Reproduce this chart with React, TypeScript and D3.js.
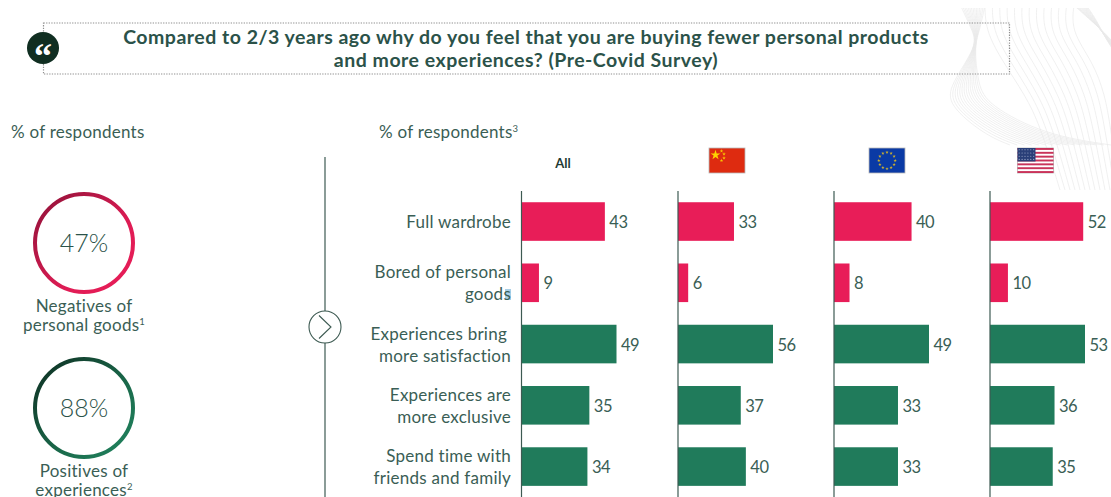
import React from "react";
import * as d3 from "d3";

const categories = [
  ["Full wardrobe"],
  ["Bored of personal", "goods"],
  ["Experiences bring ", "more satisfaction"],
  ["Experiences are", "more exclusive"],
  ["Spend time with", "friends and family"],
];
const categoryKinds = ["negative", "negative", "positive", "positive", "positive"];
const allValues = [43, 9, 49, 35, 34];
const chinaValues = [33, 6, 56, 37, 40];
const europeValues = [40, 8, 49, 33, 33];
const usaValues = [52, 10, 53, 36, 35];

const FONT = "Lato, 'Open Sans', sans-serif";
const INK = "#3a5e55";
const TITLE_INK = "#2b5249";
const PINK = "#e81d58";
const GREEN = "#207b5b";

const W = 1111;
const H = 497;

const BODY = { fontSize: 17, letterSpacing: 0.25 };

const panels = [
  { key: "All", x0: 521.5, values: allValues },
  { key: "China", x0: 678, values: chinaValues },
  { key: "EU", x0: 834, values: europeValues },
  { key: "USA", x0: 990, values: usaValues },
];

const rowScale = d3
  .scaleBand<number>()
  .domain(d3.range(categories.length))
  .range([190.9, 497.2])
  .paddingInner(0.37)
  .paddingOuter(0.185);

// Every panel stretches its own largest value to the same bar length.
const MAX_BAR = 95;

function Panel({ x0, values }: { x0: number; values: number[] }) {
  const x = d3.scaleLinear().domain([0, d3.max(values) as number]).range([0, MAX_BAR]);
  return (
    <g>
      {values.map((v, i) => {
        const y = rowScale(i) as number;
        return (
          <g key={i}>
            <rect
              x={x0}
              y={y}
              width={x(v)}
              height={rowScale.bandwidth()}
              fill={categoryKinds[i] === "negative" ? PINK : GREEN}
            />
            <text
              x={x0 + x(v) + 4.5}
              y={y + rowScale.bandwidth() / 2 + 6.5}
              fontSize={16.5}
              letterSpacing={-0.5}
              fill={INK}
            >
              {v}
            </text>
          </g>
        );
      })}
      <line x1={x0} x2={x0} y1={191} y2={H} stroke="#3d5a52" strokeWidth={1.2} />
    </g>
  );
}

function CategoryLabels() {
  return (
    <g textAnchor="end" {...BODY} fill={INK}>
      {categories.map((lines, i) => {
        const cy = (rowScale(i) as number) + rowScale.bandwidth() / 2;
        const lead = 22;
        const top = cy - ((lines.length - 1) * lead) / 2 + 6.5;
        return lines.map((line, j) => (
          <text key={j} x={i === 2 && j === 0 ? 507 : 511} y={top + j * lead}>
            {line.trim()}
          </text>
        ));
      })}
    </g>
  );
}

// Faint ribbons of curves behind the top-right corner.
function WaveBackdrop() {
  const curve = d3
    .line<[number, number]>()
    .x((d) => d[0])
    .y((d) => d[1])
    .curve(d3.curveBasis);
  const dense = d3.range(0, 1.0001, 1 / 14);
  const sparse = d3.range(0, 1.0001, 1 / 12);
  return (
    <g fill="none" stroke="#e9e9e9" strokeWidth={0.7} clipPath="url(#waveClip)">
      {dense.map((t, i) => (
        <path
          key={`a${i}`}
          d={
            curve([
              [958 + t * 28, 0],
              [972 + t * 8, 30],
              [978 - t * 4, 45],
              [950 + t * 28, 85],
              [948 + t * 40, 105],
              [985 + t * 60, 135],
              [1010 + t * 101, 145],
            ]) as string
          }
        />
      ))}
      {sparse.map((t, i) => (
        <path
          key={`b${i}`}
          d={
            curve([
              [985 + t * 90, 0],
              [985 + t * 85, 30],
              [1003 + t * 90, 62],
              [1025 + t * 80, 95],
              [1040 + t * 70, 125],
              [1060 + t * 60, 190],
            ]) as string
          }
        />
      ))}
      {sparse.map((t, i) => (
        <path
          key={`c${i}`}
          d={
            curve([
              [1068 + t * 14, 0],
              [1088 + t * 8, 18],
              [1111, 38 + t * 12],
              [1125, 60],
            ]) as string
          }
        />
      ))}
    </g>
  );
}

function Ring({
  cy,
  value,
  gradient,
  lines,
  sup,
}: {
  cy: number;
  value: string;
  gradient: string;
  lines: string[];
  sup: string;
}) {
  return (
    <g>
      <circle cx={84} cy={cy} r={49} fill="none" stroke={`url(#${gradient})`} strokeWidth={4} />
      <text x={84} y={cy + 9} textAnchor="middle" fontSize={25} fontWeight={300} fill={TITLE_INK}>
        {value}
      </text>
      <text x={84} y={cy + 69} textAnchor="middle" {...BODY} fill={INK}>
        {lines[0]}
      </text>
      <text x={84} y={cy + 88} textAnchor="middle" {...BODY} fill={INK}>
        {lines[1]}
        <tspan fontSize={9.5} dy={-6}>
          {sup}
        </tspan>
      </text>
    </g>
  );
}

function ChinaFlag({ x, y }: { x: number; y: number }) {
  const star = d3.symbol(d3.symbolStar);
  const small = [
    [12.5, 3],
    [15, 6],
    [15, 10],
    [12.5, 12.5],
  ];
  return (
    <g transform={`translate(${x},${y})`}>
      <rect width={36} height={25} fill="#de2b10" stroke="#b9b9b9" strokeWidth={0.8} />
      <path d={star.size(30)() as string} transform="translate(6.5,7)" fill="#fdd400" />
      {small.map((p, i) => (
        <path key={i} d={star.size(4)() as string} transform={`translate(${p[0]},${p[1]})`} fill="#f9c800" />
      ))}
    </g>
  );
}

function EuropeFlag({ x, y }: { x: number; y: number }) {
  const star = d3.symbol(d3.symbolStar).size(3.5);
  return (
    <g transform={`translate(${x},${y})`}>
      <rect width={36} height={25} fill="#0a3aa5" stroke="#b9b9b9" strokeWidth={0.8} />
      {d3.range(12).map((i) => {
        const a = (i / 12) * Math.PI * 2;
        return (
          <path
            key={i}
            d={star() as string}
            transform={`translate(${18 + Math.cos(a) * 8.2},${12.5 + Math.sin(a) * 8.2})`}
            fill="#d4b52a"
          />
        );
      })}
    </g>
  );
}

function UsaFlag({ x, y }: { x: number; y: number }) {
  const stripe = 25 / 13;
  return (
    <g transform={`translate(${x},${y})`}>
      <rect width={36} height={25} fill="#fff" stroke="#b9b9b9" strokeWidth={0.8} />
      {d3.range(0, 13, 2).map((i) => (
        <rect key={i} y={i * stripe} width={36} height={stripe} fill="#c9335a" />
      ))}
      <rect width={18} height={stripe * 7} fill="#2a3f78" />
      {d3.range(4).map((r) =>
        d3.range(6).map((c) => (
          <circle key={`${r}-${c}`} cx={1.7 + c * 2.9} cy={1.8 + r * 3.2} r={0.55} fill="#a9b3d2" />
        )),
      )}
    </g>
  );
}

export default function App() {
  return (
    <svg
      width={W}
      height={H}
      viewBox={`0 0 ${W} ${H}`}
      style={{ position: "fixed", left: 0, top: 0, background: "#fff", fontFamily: FONT }}
    >
      <defs>
        <linearGradient id="ringPink" x1="0" y1="0" x2="1" y2="1">
          <stop offset="0" stopColor="#8f1238" />
          <stop offset="0.65" stopColor="#e01c55" />
          <stop offset="1" stopColor="#e81d58" />
        </linearGradient>
        <linearGradient id="ringGreen" x1="0" y1="0" x2="1" y2="1">
          <stop offset="0" stopColor="#0e2e22" />
          <stop offset="0.6" stopColor="#1a6a4b" />
          <stop offset="1" stopColor="#218560" />
        </linearGradient>
        <clipPath id="waveClip">
          <rect x={930} y={8} width={181} height={200} />
        </clipPath>
      </defs>

      <WaveBackdrop />

      {/* Question banner */}
      <rect
        x={43.5}
        y={23}
        width={966}
        height={51}
        fill="none"
        stroke="#8f8f8f"
        strokeWidth={1.2}
        strokeDasharray="1.3 1.3"
      />
      <circle cx={43} cy={48} r={16} fill="#102e21" />
      <text
        x={43}
        y={68}
        textAnchor="middle"
        fontFamily="'Liberation Serif', serif"
        fontWeight={700}
        fontSize={36}
        fill="#fff"
      >
        {"\u201C"}
      </text>
      <g textAnchor="middle" fontSize={19.5} letterSpacing={0.5} fontWeight={700} fill={TITLE_INK}>
        <text x={526} y={43.5}>
          Compared to 2/3 years ago why do you feel that you are buying fewer personal products
        </text>
        <text x={526} y={67}>
          and more experiences? (Pre-Covid Survey)
        </text>
      </g>

      {/* Left summary column */}
      <text x={11} y={138} {...BODY} fill={INK}>
        % of respondents
      </text>
      <Ring
        cy={243}
        value="47%"
        gradient="ringPink"
        lines={["Negatives of", "personal goods"]}
        sup="1"
      />
      <Ring cy={408} value="88%" gradient="ringGreen" lines={["Positives of", "experiences"]} sup="2" />

      {/* Divider with arrow */}
      <line x1={325} x2={325} y1={157} y2={H} stroke="#3d5a52" strokeWidth={1.2} />
      <circle cx={325} cy={327} r={16} fill="#fff" stroke="#3d5a52" strokeWidth={1.1} />
      <path d="M319,315.5 L331,327 L319,338.5" fill="none" stroke="#3d5a52" strokeWidth={1.1} />

      {/* Right panel headings */}
      <text x={379} y={138} {...BODY} fill={INK}>
        % of respondents
        <tspan fontSize={9.5} dy={-6}>
          3
        </tspan>
      </text>
      <text x={563} y={168} textAnchor="middle" fontSize={13} fontWeight={700} fill="#1f3a32">
        All
      </text>
      <ChinaFlag x={709} y={148} />
      <EuropeFlag x={869} y={148} />
      <UsaFlag x={1017.5} y={148} />

      {/* Selection tint on the last letter of "goods" */}
      <rect x={505} y={289} width={6} height={11} fill="#a9cfe6" />
      <CategoryLabels />
      {panels.map((p) => (
        <Panel key={p.key} x0={p.x0} values={p.values} />
      ))}
    </svg>
  );
}
